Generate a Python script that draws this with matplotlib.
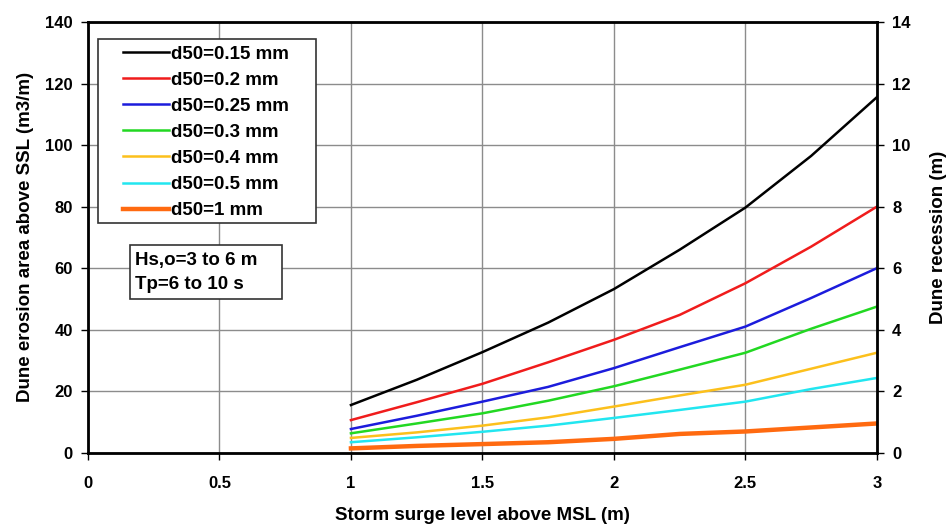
import matplotlib
matplotlib.use("Agg")
import matplotlib.pyplot as plt
from matplotlib.patches import Rectangle

plt.rcParams['font.family'] = ['Liberation Sans', 'DejaVu Sans']
plt.rcParams['font.weight'] = 'bold'

# storm surge level (m)
surge = [1.0, 1.25, 1.5, 1.75, 2.0, 2.25, 2.5, 2.75, 3.0]

# dune erosion area above SSL (m3/m)
d015 = [15.5, 23.7, 32.7, 42.3, 53.2, 66.0, 79.7, 96.5, 115.6]
d020 = [10.6, 16.4, 22.4, 29.4, 36.7, 44.8, 55.1, 67.0, 80.0]
d025 = [7.7, 12.0, 16.6, 21.4, 27.5, 34.3, 41.0, 50.3, 60.0]
d030 = [6.3, 9.5, 12.8, 16.9, 21.6, 27.0, 32.5, 40.3, 47.5]
d040 = [4.8, 6.6, 8.8, 11.5, 15.0, 18.6, 22.1, 27.3, 32.5]
d050 = [3.4, 5.0, 6.8, 8.8, 11.3, 13.9, 16.6, 20.7, 24.3]
d1 = [1.4, 2.2, 2.8, 3.4, 4.5, 6.1, 6.9, 8.2, 9.5]

labels = ['d50=0.15 mm', 'd50=0.2 mm', 'd50=0.25 mm', 'd50=0.3 mm',
          'd50=0.4 mm', 'd50=0.5 mm', 'd50=1 mm']
series = [d015, d020, d025, d030, d040, d050, d1]
colors = ['#000000', '#f01c1c', '#1c1cdc', '#22d822', '#fcc01c', '#22e6f0', '#ff6a10']
widths = [1.8, 1.8, 1.8, 1.8, 1.8, 1.8, 3.2]

fig = plt.figure(figsize=(9.48, 5.27), dpi=100)
ax = fig.add_axes([0.0928, 0.141, 0.8322, 0.817])

for y, lab, c, w in zip(series, labels, colors, widths):
    ax.plot(surge, y, color=c, lw=w, label=lab)

ax.set_xlim(0, 3)
ax.set_ylim(0, 140)
ax.set_xticks([0, 0.5, 1, 1.5, 2, 2.5, 3])
ax.set_xticklabels(['0', '0.5', '1', '1.5', '2', '2.5', '3'])
ax.set_yticks(range(0, 141, 20))
ax.grid(True, color='#8c8c8c', lw=1.0)
for s in ax.spines.values():
    s.set_linewidth(2)
ax.tick_params(labelsize=12, length=5, width=1, pad=6)
ax.tick_params(axis='x', pad=12)
ax.set_xlabel('Storm surge level above MSL (m)', fontsize=13.5, fontweight='bold', labelpad=11)
ax.set_ylabel('Dune erosion area above SSL (m3/m)', fontsize=13.5, fontweight='bold', labelpad=8)

ax2 = ax.twinx()
ax2.set_ylim(0, 14)
ax2.set_yticks(range(0, 15, 2))
ax2.tick_params(labelsize=12, length=5, width=1, pad=6)
ax2.set_ylabel('Dune recession (m)', fontsize=13.5, fontweight='bold', labelpad=14)

# legend frame drawn separately so the wide left padding matches
ax.add_patch(Rectangle((0.0127, 0.534), 0.276, 0.427, transform=ax.transAxes,
                       fc='white', ec='#333333', lw=1.2, zorder=4))
leg = ax.legend(loc='upper left', bbox_to_anchor=(0.044, 0.946), fontsize=13.5,
                handlelength=2.45, handletextpad=0.15, labelspacing=0.48,
                frameon=False, borderpad=0, borderaxespad=0)
leg.set_zorder(5)
for t in leg.get_texts():
    t.set_fontweight('bold')

ax.add_patch(Rectangle((0.0532, 0.357), 0.1926, 0.1254, transform=ax.transAxes,
                       fc='white', ec='#333333', lw=1.2, zorder=4))
ax.text(0.06, 0.419, 'Hs,o=3 to 6 m\nTp=6 to 10 s', transform=ax.transAxes,
        fontsize=13.5, fontweight='bold', va='center', ha='left',
        linespacing=1.5, zorder=5)

fig.savefig('out.png', dpi=100)
